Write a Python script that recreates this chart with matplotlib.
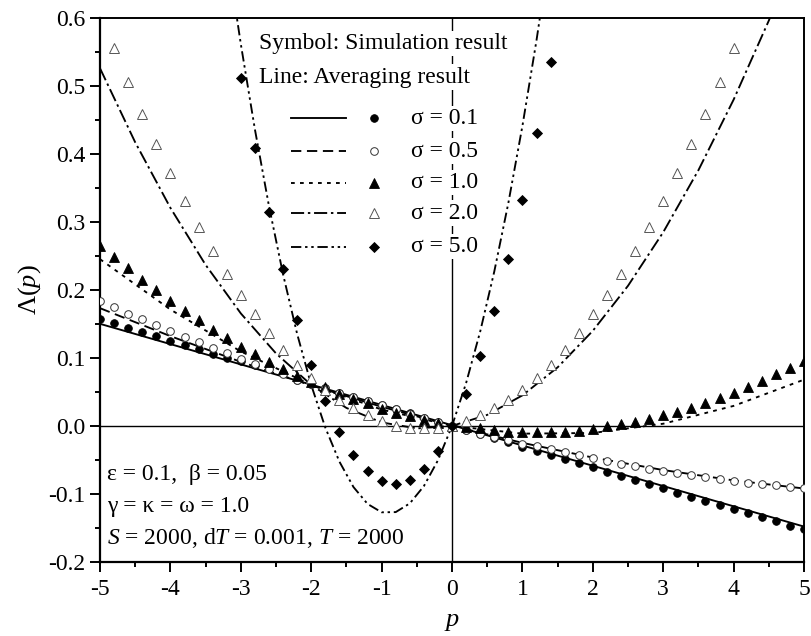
import matplotlib
matplotlib.use("Agg")
import matplotlib.pyplot as plt
import numpy as np

plt.rcParams["font.family"] = ["Liberation Serif", "DejaVu Serif"]
plt.rcParams["mathtext.fontset"] = "custom"
plt.rcParams["mathtext.rm"] = "Liberation Serif"
plt.rcParams["mathtext.it"] = "Liberation Serif:italic"
plt.rcParams["axes.unicode_minus"] = False

# simulation symbols, p = -5 ... 5 step 0.2
SYM_P = np.linspace(-5, 5, 51)

SYM_S01 = [0.1565, 0.1506, 0.144, 0.1373, 0.132, 0.125, 0.1187, 0.1128, 0.1064, 0.1005,
           0.095, 0.089, 0.0844, 0.078, 0.068, 0.062, 0.055, 0.049, 0.043, 0.0365,
           0.0305, 0.0244, 0.0183, 0.0122, 0.0061, 0.0, -0.0061, -0.0122, -0.0183, -0.0244,
           -0.0305, -0.0366, -0.0427, -0.0488, -0.0549, -0.061, -0.0676, -0.0735, -0.0799, -0.0857,
           -0.092, -0.098, -0.104, -0.110, -0.1166, -0.1225, -0.128, -0.134, -0.140, -0.1465,
           -0.152]

SYM_S05 = [0.1834, 0.175, 0.165, 0.1565, 0.148, 0.139, 0.131, 0.123, 0.1147, 0.107,
           0.099, 0.0917, 0.0838, 0.0756, 0.068, 0.062, 0.056, 0.049, 0.0427, 0.0368,
           0.0304, 0.0246, 0.0182, 0.0123, 0.006, 0.0, -0.0063, -0.0122, -0.017, -0.021,
           -0.026, -0.030, -0.0343, -0.038, -0.043, -0.0475, -0.0515, -0.0553, -0.0588, -0.0627,
           -0.066, -0.0686, -0.072, -0.075, -0.078, -0.081, -0.0833, -0.0848, -0.0872, -0.0897,
           -0.092]

SYM_S10 = [0.265, 0.2485, 0.2314, 0.215, 0.1995, 0.184, 0.1687, 0.155, 0.1407, 0.1285,
           0.116, 0.1055, 0.0937, 0.0829, 0.073, 0.0647, 0.0565, 0.0476, 0.040, 0.033,
           0.0255, 0.0195, 0.014, 0.0084, 0.004, 0.0, -0.002, -0.0034, -0.0063, -0.0088,
           -0.0088, -0.009, -0.009, -0.009, -0.008, -0.005, 0.0, 0.0025, 0.005, 0.0103,
           0.0157, 0.0206, 0.027, 0.0338, 0.0417, 0.0485, 0.0574, 0.0662, 0.0756, 0.0858,
           0.0956]

# sigma = 2.0 symbols, p = -4.8 ... 4.0
SYM_P20 = np.linspace(-4.8, 4.0, 45)
SYM_S20 = [0.556, 0.506, 0.459, 0.414, 0.371, 0.331, 0.293, 0.257, 0.223, 0.192,
           0.164, 0.137, 0.112, 0.089, 0.070, 0.0525, 0.038, 0.0256, 0.0157, 0.0065,
           0.0, -0.003, -0.0035, -0.003, 0.0, 0.0065, 0.0157, 0.0256, 0.038, 0.0525,
           0.070, 0.089, 0.112, 0.137, 0.164, 0.192, 0.223, 0.257, 0.293, 0.331,
           0.371, 0.414, 0.459, 0.506, 0.556]

# sigma = 5.0 symbols, p = -3.0 ... 1.4
SYM_P50 = np.linspace(-3.0, 1.4, 23)
SYM_S50 = [0.512, 0.408, 0.314, 0.23, 0.155, 0.09, 0.036, -0.009, -0.043, -0.066,
           -0.081, -0.085, -0.079, -0.063, -0.037, 0.0, 0.047, 0.1025, 0.169, 0.246,
           0.332, 0.43, 0.535]

# averaging results (lines)
LINE_P01 = [-5.0, 5.0]
LINE_S01 = [0.150, -0.148]

LINE_P_STEP1 = [-5, -4, -3, -2, -1, 0, 1, 2, 3, 4, 5]
LINE_S05 = [0.173, 0.1319, 0.0941, 0.0595, 0.0281, 0.0, -0.0249, -0.0465, -0.0649, -0.0801, -0.092]
LINE_S10 = [0.245, 0.171, 0.1094, 0.0604, 0.024, 0.0, -0.0114, -0.0104, 0.0032, 0.0294, 0.068]

LINE_P20 = [-5.0, -4.5, -4.0, -3.5, -3.0, -2.5, -2.0, -1.5, -1.0, -0.5, 0.0,
            0.5, 1.0, 1.5, 2.0, 2.5, 3.0, 3.5, 4.0, 4.5, 5.0]
LINE_S20 = [0.5255, 0.4167, 0.3204, 0.2366, 0.1653, 0.1065, 0.0602, 0.0264, 0.0051, -0.0037, 0.0,
            0.0162, 0.0449, 0.0861, 0.1398, 0.206, 0.2847, 0.3759, 0.4796, 0.5958, 0.7245]

LINE_P50 = [-3.2, -3.0, -2.8, -2.6, -2.4, -2.2, -2.0, -1.8, -1.6, -1.4, -1.2, -1.0,
            -0.8, -0.6, -0.4, -0.2, 0.0, 0.2, 0.4, 0.6, 0.8, 1.0, 1.2, 1.4]
LINE_S50 = [0.699, 0.561, 0.4357, 0.3229, 0.2227, 0.1351, 0.060, -0.0025, -0.0525, -0.0899, -0.1147, -0.127,
            -0.1267, -0.1139, -0.0885, -0.0505, 0.0, 0.0631, 0.1387, 0.2269, 0.3277, 0.441, 0.5669, 0.7053]

SIGMA_LABELS = ["σ = 0.1", "σ = 0.5", "σ = 1.0", "σ = 2.0", "σ = 5.0"]

LW = 1.35
TXT = 17
line_styles = [
    "-",
    (0, (5.5, 3)),
    (0, (2, 2.8)),
    (0, (7, 2, 1.3, 2)),
    (0, (5.5, 2, 1.3, 2, 1.3, 2)),
]
marker_styles = [
    dict(marker="o", ms=5.5, mfc="black", mec="black", mew=0.6),
    dict(marker="o", ms=5.5, mfc="white", mec="#333333", mew=0.7),
    dict(marker="^", ms=6.5, mfc="black", mec="black", mew=0.6),
    dict(marker="^", ms=6.5, mfc="white", mec="#555555", mew=0.7),
    dict(marker="D", ms=5.5, mfc="black", mec="black", mew=0.6),
]

fig = plt.figure(figsize=(8.12, 6.36), dpi=100)
ax = fig.add_axes([0.1232, 0.1164, 0.8670, 0.8558])

ax.axhline(0, color="black", lw=1.0, zorder=1)
ax.axvline(0, color="black", lw=1.0, zorder=1)

line_sets = [(LINE_P01, LINE_S01), (LINE_P_STEP1, LINE_S05), (LINE_P_STEP1, LINE_S10),
             (LINE_P20, LINE_S20), (LINE_P50, LINE_S50)]
sym_sets = [(SYM_P, SYM_S01), (SYM_P, SYM_S05), (SYM_P, SYM_S10),
            (SYM_P20, SYM_S20), (SYM_P50, SYM_S50)]

for (lp, ls_vals), style in zip(line_sets, line_styles):
    ax.plot(lp, ls_vals, color="black", lw=LW, linestyle=style, zorder=2)

for (sp, s_vals), mk in zip(sym_sets, marker_styles):
    ax.plot(sp, s_vals, linestyle="none", zorder=3, **mk)

ax.set_xlim(-5, 5)
ax.set_ylim(-0.2, 0.6)
ax.set_xticks(np.arange(-5, 6, 1))
ax.set_yticks(np.round(np.arange(-0.2, 0.61, 0.1), 1))
ax.set_xticks(np.arange(-4.5, 5, 1), minor=True)
ax.set_yticks(np.arange(-0.15, 0.6, 0.1), minor=True)
ax.set_xticklabels([str(v) for v in range(-5, 6)])
ax.set_yticklabels([f"{v:.1f}" for v in np.arange(-0.2, 0.61, 0.1)])
ax.tick_params(axis="both", which="major", direction="out", length=7, width=1.4,
               labelsize=TXT, top=False, right=False)
ax.tick_params(axis="x", which="major", pad=5)
ax.tick_params(axis="both", which="minor", direction="out", length=3.5, width=1.4,
               top=False, right=False)
for side in ["left", "bottom"]:
    ax.spines[side].set_linewidth(1.6)
for side in ["top", "right"]:
    ax.spines[side].set_linewidth(1.4)

ax.set_xlabel(r"$p$", fontsize=19, labelpad=8)
ax.set_ylabel(r"$\Lambda(p)$", fontsize=19, labelpad=4)

# legend drawn by hand
white_box = dict(facecolor="white", edgecolor="none", pad=1.5)
ax.text(0.226, 0.953, "Symbol: Simulation result", transform=ax.transAxes,
        fontsize=TXT, va="center", ha="left", bbox=white_box, zorder=4)
ax.text(0.226, 0.891, "Line: Averaging result", transform=ax.transAxes,
        fontsize=TXT, va="center", ha="left", bbox=white_box, zorder=4)
row_y = [0.815, 0.755, 0.697, 0.641, 0.579]
for yy, label, style, mk in zip(row_y, SIGMA_LABELS, line_styles, marker_styles):
    ax.plot([0.271, 0.350], [yy, yy], transform=ax.transAxes, color="black",
            lw=LW, linestyle=style, zorder=4)
    ax.plot([0.389], [yy], transform=ax.transAxes, linestyle="none", zorder=4, **mk)
    ax.text(0.442, yy, label, transform=ax.transAxes, fontsize=TXT,
            va="center", ha="left", bbox=white_box, zorder=4)

ax.text(0.010, 0.160, "ε = 0.1,  β = 0.05", transform=ax.transAxes,
        fontsize=TXT, va="center", ha="left")
ax.text(0.010, 0.101, "γ = κ = ω = 1.0", transform=ax.transAxes,
        fontsize=TXT, va="center", ha="left")
ax.text(0.010, 0.044, r"$S$ = 2000, d$T$ = 0.001, $T$ = 2000", transform=ax.transAxes,
        fontsize=TXT, va="center", ha="left")

fig.savefig("out.png", dpi=100)
